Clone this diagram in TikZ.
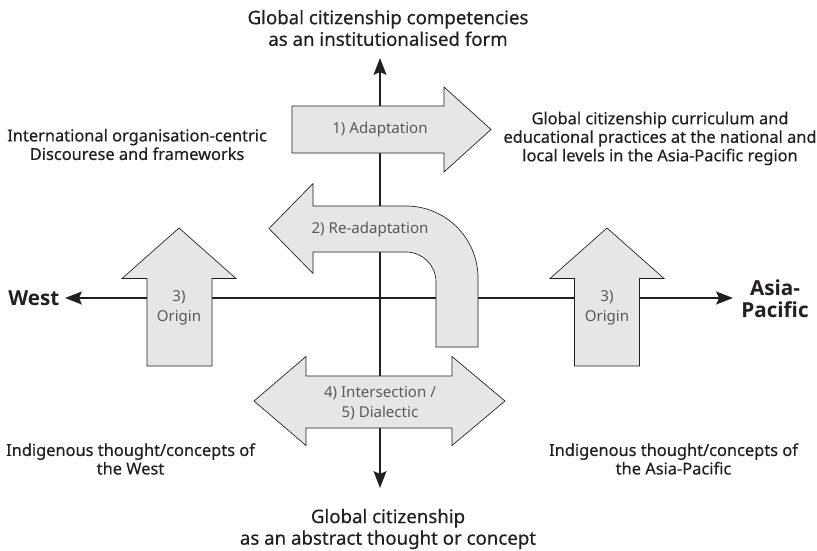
\documentclass[tikz,border=0pt]{standalone}
\usepackage{fontspec}
\setmainfont{Noto Sans}
\newfontfamily\medfont{Noto Sans}[FakeBold=0.35]
\newfontfamily\dirfont{Open Sans}
\usetikzlibrary{arrows.meta}
\definecolor{shapefill}{HTML}{E6E6E7}
\definecolor{labelgray}{HTML}{58595B}
\definecolor{inkdark}{HTML}{231F20}
\tikzset{
  axisline/.style={line width=2pt, draw=inkdark, -{Stealth[length=12.5pt,width=9.5pt,inset=2pt]}},
  bigarrow/.style={fill=shapefill, draw=inkdark, line width=0.5pt, line join=miter},
  arrowlabel/.style={text=labelgray, font=\fontsize{11.3}{15}\selectfont, align=center, inner sep=0pt},
  poletext/.style={text=inkdark, font=\medfont\fontsize{14}{16.2}\selectfont, align=center, inner sep=0pt},
  sidetext/.style={text=inkdark, font=\medfont\fontsize{12.3}{13.9}\selectfont, align=center, inner sep=0pt},
  dirtext/.style={text=inkdark, font=\dirfont\bfseries\fontsize{15.5}{16.5}\selectfont, align=center, inner sep=0pt}
}
\begin{document}
\begin{tikzpicture}[x=0.75pt,y=-0.75pt]
\useasboundingbox (0,0) rectangle (817,550);

% axes (drawn first, the arrow shapes sit on top)
\coordinate (origin) at (380,298);
\coordinate (axtop) at (380,58);
\coordinate (axbot) at (380,488);
\coordinate (axleft) at (65,298);
\coordinate (axright) at (733,298);
\draw[axisline] (origin) -- (axtop);
\draw[axisline] (origin) -- (axbot);
\draw[axisline] (origin) -- (axleft);
\draw[axisline] (origin) -- (axright);

% 1) adaptation arrow
\draw[bigarrow] (292,106) -- (444,106) -- (444,87) -- (491,129.5) -- (444,172) -- (444,153) -- (292,153) -- cycle;
\node[arrowlabel] (adapt) at (380,129.5) {1) Adaptation};

% 2) re-adaptation, bent arrow
\draw[bigarrow] (313,206) -- (406,206) arc[start angle=-90,end angle=0,radius=72]
  -- (478,347) -- (436,347) -- (436,282) arc[start angle=0,end angle=-90,radius=30]
  -- (313,252) -- (313,273.5) -- (269,228.5) -- (313,183.5) -- cycle;
\node[arrowlabel] (readapt) at (370,230) {2) Re-adaptation};

% 3) origin arrows
\draw[bigarrow] (147,366) -- (147,278.5) -- (122,278.5) -- (179,228) -- (236,278.5) -- (212,278.5) -- (212,366) -- cycle;
\node[arrowlabel] (originw) at (179,308) {3)\\Origin};
\draw[bigarrow] (574.5,366) -- (574.5,278.5) -- (550,278.5) -- (607,228) -- (664,278.5) -- (639.5,278.5) -- (639.5,366) -- cycle;
\node[arrowlabel] (originap) at (607,308) {3)\\Origin};

% 4)/5) double arrow
\draw[bigarrow] (254,401) -- (306,356.5) -- (306,376) -- (452,376) -- (452,356.5) -- (505,401)
  -- (452,445.5) -- (452,428) -- (306,428) -- (306,445.5) -- cycle;
\node[arrowlabel] (inter) at (380,403.5) {4) Intersection /\\5) Dialectic};

% pole texts
\node[poletext] (topt) at (388,28) {Global citizenship competencies\\as an institutionalised form};
\node[poletext] (bott) at (388,529) {Global citizenship\\as an abstract thought or concept};
\node[dirtext, anchor=west] (west) at (8,298.5) {West};
\node[dirtext] (asia) at (775,299) {Asia-\\Pacific};

% quadrant texts
\node[sidetext, anchor=west] (intl) at (7,144.5) {International organisation-centric\\Discourese and frameworks};
\node[sidetext] (curr) at (660,138.5) {Global citizenship curriculum and\\educational practices at the national and\\local levels in the Asia-Pacific region};
\node[sidetext] (indw) at (130.5,459) {Indigenous thought/concepts of\\the West};
\node[sidetext] (indap) at (673.5,459) {Indigenous thought/concepts of\\the Asia-Pacific};
\end{tikzpicture}
\end{document}
